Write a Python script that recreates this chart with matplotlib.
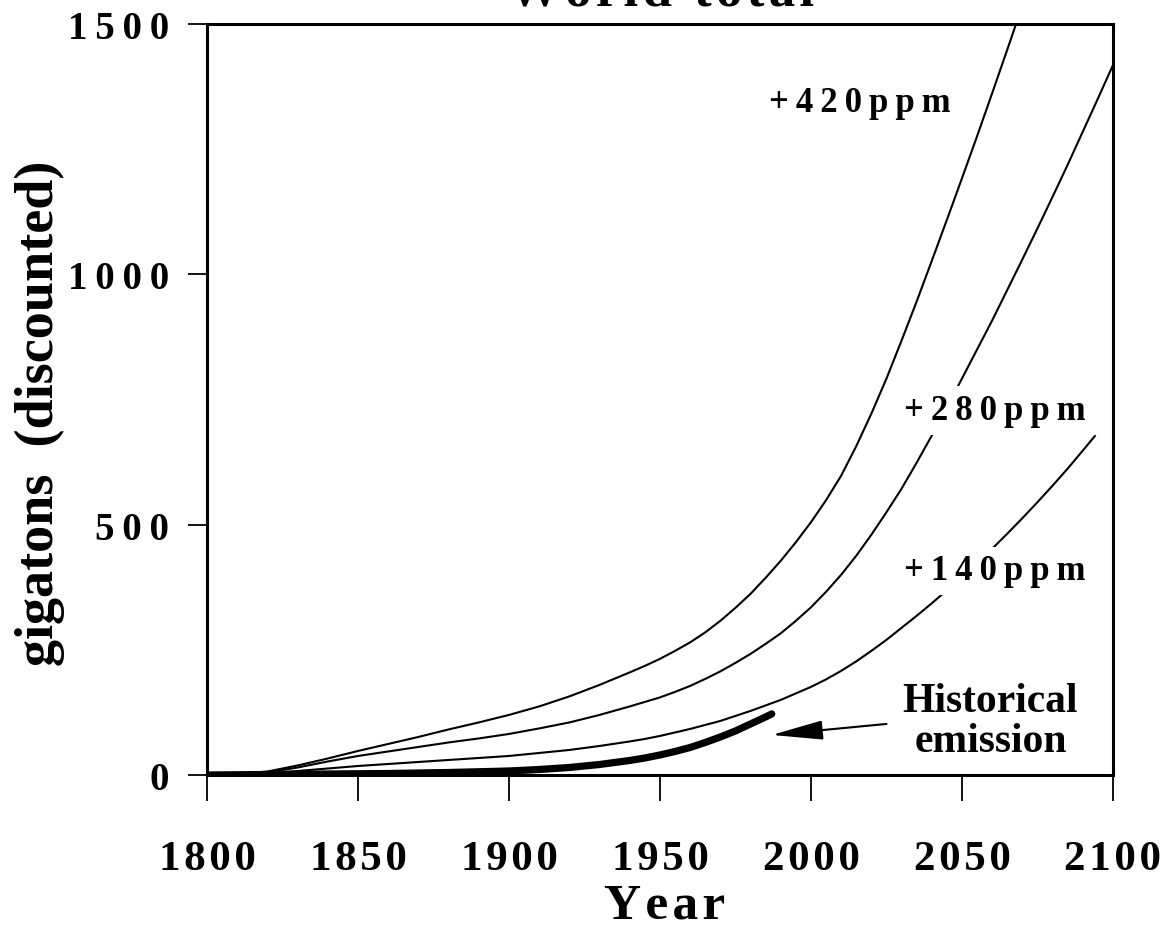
import matplotlib
matplotlib.use('Agg')
import matplotlib.pyplot as plt

# ---------------- data ----------------
years_420 = [1800, 1810, 1820, 1830, 1840, 1850, 1860, 1870, 1880, 1890, 1900, 1910,
             1920, 1930, 1940, 1945, 1950, 1955, 1960, 1965, 1970, 1975, 1980, 1985,
             1990, 1995, 2000, 2005, 2010, 2015, 2020, 2025, 2030, 2035, 2040, 2045,
             2050, 2055, 2060, 2065, 2070]
vals_420 = [0, 2, 7, 19, 33, 48, 62, 76, 91, 105, 120, 137,
            157, 180, 205, 218, 232, 248, 265, 285, 308, 334, 362, 394,
            428, 465, 505, 549, 598, 657, 722, 792, 868, 946, 1027, 1109,
            1192, 1276, 1362, 1449, 1537]

years_280 = [1800, 1810, 1820, 1830, 1840, 1850, 1860, 1870, 1880, 1890, 1900, 1910,
             1920, 1930, 1940, 1945, 1950, 1955, 1960, 1965, 1970, 1975, 1980, 1985,
             1990, 1995, 2000, 2005, 2010, 2015, 2020, 2025, 2030, 2035, 2040, 2045,
             2050, 2055, 2060, 2065, 2070, 2075, 2080, 2085, 2090, 2095, 2100]
vals_280 = [0, 2, 5, 15, 27, 38, 47, 56, 65, 73, 82, 93,
            105, 120, 137, 146, 155, 166, 178, 192, 207, 224, 242, 262,
            283, 308, 335, 366, 400, 438, 480, 525, 572, 624, 678, 734,
            792, 850, 908, 969, 1030, 1092, 1155, 1219, 1285, 1351, 1418]

years_140 = [1800, 1810, 1820, 1830, 1840, 1850, 1860, 1870, 1880, 1890, 1900, 1910,
             1920, 1930, 1940, 1945, 1950, 1955, 1960, 1965, 1970, 1975, 1980, 1985,
             1990, 1995, 2000, 2005, 2010, 2015, 2020, 2025, 2030, 2035, 2040, 2045,
             2050, 2055, 2060, 2065, 2070, 2075, 2080, 2085, 2090, 2094]
vals_140 = [0, 1, 3, 8, 13, 18, 22, 26, 30, 34, 38, 44,
            50, 58, 67, 72, 78, 85, 92, 100, 108, 118, 128, 139,
            150, 163, 176, 191, 208, 227, 248, 270, 294, 318, 343, 369,
            396, 423, 452, 482, 513, 545, 578, 612, 648, 677]

years_hist = [1800, 1820, 1840, 1860, 1880, 1900, 1910, 1920, 1930, 1940, 1945, 1950,
              1955, 1960, 1965, 1970, 1975, 1980, 1985, 1987]
vals_hist = [0, 1, 2, 3, 5, 8, 11, 15, 21, 29, 34, 40,
             47, 55, 65, 76, 88, 102, 116, 122]

x_ticks = [1800, 1850, 1900, 1950, 2000, 2050, 2100]
y_ticks = [0, 500, 1000, 1500]

series_labels = ['+420ppm', '+280ppm', '+140ppm']
hist_lines = ['Historical', 'emission']
title_text = 'World total'
x_label = 'Year'
y_label = 'gigatons  (discounted)'

# ---------------- style ----------------
plt.rcParams['font.family'] = ['Liberation Serif', 'DejaVu Serif']
plt.rcParams['font.weight'] = 'bold'

W, H = 1168, 928


def fx(px):
    return px / W


def fy(py):
    return 1 - py / H


def tracked(s, sp='\u2009'):
    return sp.join(s)


fig = plt.figure(figsize=(W / 100, H / 100), dpi=100)
fig.patch.set_facecolor('white')
ax = fig.add_axes([fx(207), fy(776), (1113 - 207) / W, (776 - 25) / H])

ax.plot(years_420, vals_420, color='black', lw=1.5, zorder=2)
ax.plot(years_280, vals_280, color='black', lw=1.5, zorder=2)
ax.plot(years_140, vals_140, color='black', lw=1.5, zorder=2)
ax.plot(years_hist, vals_hist, color='black', lw=5.2, solid_capstyle='round',
        solid_joinstyle='round', zorder=2)

ax.set_xlim(1800, 2100)
ax.set_ylim(0, 1500)
ax.set_xticks(x_ticks)
ax.set_xticklabels([tracked(str(t), '\u200a') for t in x_ticks])
ax.set_yticks(y_ticks)
ax.set_yticklabels([tracked(str(t), '\u2009') for t in y_ticks])
ax.tick_params(axis='x', direction='out', length=19, width=1.3, pad=28, labelsize=31)
ax.tick_params(axis='y', direction='out', length=14, width=1.3, pad=13, labelsize=28)
for s in ax.spines.values():
    s.set_linewidth(2.2)

# curve labels (white boxes cut the curves as in the reference)
label_pos = [(2016.2, 1326), (2060.8, 711), (2060.8, 391)]
for txt, (lx, ly) in zip(series_labels, label_pos):
    ax.text(lx, ly, tracked(txt), ha='center', va='baseline', fontsize=25, zorder=3,
            bbox=dict(boxstyle='square,pad=0.22', fc='white', ec='none'))

hist_pos = [(2059.3, 128), (2059.6, 48)]
for txt, (lx, ly) in zip(hist_lines, hist_pos):
    ax.text(lx, ly, txt, ha='center', va='baseline', fontsize=30, zorder=3)

ax.annotate('', xy=(1987, 80), xytext=(2025, 102),
            arrowprops=dict(arrowstyle='-|>,head_length=1.6,head_width=0.3',
                            color='black', lw=1.5, mutation_scale=20,
                            shrinkA=0, shrinkB=0))

fig.text(fx(661), fy(6), tracked(title_text, '\u200a'), ha='center', va='baseline', fontsize=38)
fig.text(fx(665), fy(919), tracked(x_label, '\u200a'), ha='center', va='baseline', fontsize=37)
fig.text(fx(40), fy(413), y_label, rotation=90, ha='center', va='center', fontsize=39)

fig.savefig('out.png', dpi=100, facecolor='white')
